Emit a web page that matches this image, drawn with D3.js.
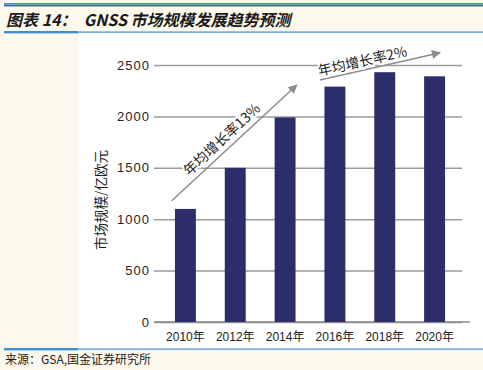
<!DOCTYPE html>
<html>
<head>
<meta charset="utf-8">
<script src="https://cdn.jsdelivr.net/npm/d3@7"></script>
<style>
  body { margin: 0; background: #fdf8ec; }
  svg { display: block; font-family: "Liberation Sans", Arial, "Noto Sans CJK SC", sans-serif; }
</style>
</head>
<body>
<div id="chart"></div>
<script>
(function()
{
    var width = 483;
    var height = 370;

    // data
    var years = ["2010年", "2012年", "2014年", "2016年", "2018年", "2020年"];
    var values = [1100, 1500, 1990, 2290, 2430, 2390];
    var yTicks = [0, 500, 1000, 1500, 2000, 2500];
    var growthLabels = ["年均增长率13%", "年均增长率2%"];

    var svg = d3.select("#chart")
        .append("svg")
        .attr("width", width)
        .attr("height", height);

    // page frame: cream paper, white plot panel, blue rules
    svg.append("rect").attr("width", width).attr("height", height).attr("fill", "#fdf8ec");
    svg.append("rect").attr("x", 78).attr("y", 33).attr("width", width - 78).attr("height", 316).attr("fill", "#ffffff");
    svg.append("rect").attr("x", 4).attr("y", 3).attr("width", width - 4).attr("height", 1.5).attr("fill", "#3d97d6");
    svg.append("rect").attr("x", 4).attr("y", 4.5).attr("width", width - 4).attr("height", 2).attr("fill", "#4d6e9f");
    [32, 349].forEach(function(yy) {
        svg.append("rect").attr("x", 4).attr("y", yy - 0.5).attr("width", width - 4).attr("height", 1.2).attr("fill", "#3d8fd0");
        svg.append("rect").attr("x", 4).attr("y", yy - 1).attr("width", 74).attr("height", 2.4).attr("fill", "#3d8fd0");
    });

    svg.append("text")
        .attr("x", 6).attr("y", 26)
        .attr("font-family", "'Noto Sans CJK SC', 'Liberation Sans', sans-serif")
        .attr("font-size", 16).attr("font-weight", "bold").attr("font-style", "italic")
        .attr("fill", "#1a1a1a")
        .style("white-space", "pre")
        .text("图表 14：  GNSS 市场规模发展趋势预测");

    svg.append("text")
        .attr("x", 5).attr("y", 364)
        .attr("font-family", "'Noto Sans CJK SC', 'Liberation Sans', sans-serif")
        .attr("font-size", 12).attr("fill", "#1a1a1a")
        .text("来源：GSA,国金证券研究所");

    var x = d3.scaleBand()
        .domain(years)
        .range([160, 460])
        .paddingInner(0.58)
        .paddingOuter(0.3);

    var y = d3.scaleLinear()
        .domain([0, 2500])
        .range([322, 65]);

    // year -> pixel, continuous along the band centres (for the trend arrows)
    var xYear = function(yr) {
        return x(years[0]) + x.bandwidth() / 2 + (yr - 2010) / 2 * x.step();
    };

    //gridlines and y tick labels
    var yAxis = d3.axisLeft(y).tickValues(yTicks).tickFormat(d3.format("d"))
        .tickSize(-(462 - 154)).tickPadding(4);
    var gy = svg.append("g").attr("transform", "translate(154,0)").call(yAxis);
    gy.select(".domain").remove();
    gy.selectAll(".tick line").attr("stroke", "#9a9a9a").attr("stroke-width", 1.5);
    gy.selectAll(".tick text")
        .attr("font-size", 13).attr("letter-spacing", 1).attr("fill", "#222");

    svg.append("line")
        .attr("x1", 154).attr("x2", 470)
        .attr("y1", y(0)).attr("y2", y(0))
        .attr("stroke", "#8a8a8a").attr("stroke-width", 1.5);

    svg.append("text")
        .attr("transform", "translate(106," + 200 + ") rotate(-90)")
        .attr("text-anchor", "middle")
        .attr("font-family", "'Noto Sans CJK SC', sans-serif")
        .attr("font-size", 13.5).attr("fill", "#222")
        .text("市场规模/亿欧元");

    svg.selectAll(".bar").data(values)
        .enter().append("rect")
        .attr("class", "bar")
        .attr("x", function(d, i) { return x(years[i]); })
        .attr("width", x.bandwidth())
        .attr("y", function(d) { return y(d); })
        .attr("height", function(d) { return y(0) - y(d); })
        .attr("fill", "#2c2e6c");

    var xAxis = d3.axisBottom(x).tickSize(0).tickPadding(10.5);
    var gx = svg.append("g").attr("transform", "translate(0," + y(0) + ")").call(xAxis);
    gx.select(".domain").remove();
    gx.selectAll(".tick text")
        .attr("font-family", "'Liberation Sans', 'Noto Sans CJK SC', sans-serif")
        .attr("font-size", 12).attr("fill", "#222");

    // trend arrows
    svg.append("defs").append("marker")
        .attr("id", "head")
        .attr("markerUnits", "userSpaceOnUse")
        .attr("viewBox", "0 0 10 10")
        .attr("refX", 9).attr("refY", 5)
        .attr("markerWidth", 12).attr("markerHeight", 9)
        .attr("orient", "auto")
        .append("path").attr("d", "M0,0L10,5L0,10Z").attr("fill", "#8c8c8c");

    var arrows = [
        {from: [2009.45, 1180], to: [2014.47, 2305], at: 0.46, lift: 6},
        {from: [2015.4, 2354], to: [2020.22, 2620], at: 0.37, lift: 4}
    ];

    arrows.forEach(function(a, i) {
        var x1 = xYear(a.from[0]), y1 = y(a.from[1]);
        var x2 = xYear(a.to[0]), y2 = y(a.to[1]);
        var ang = Math.atan2(y2 - y1, x2 - x1) * 180 / Math.PI;
        svg.append("line")
            .attr("x1", x1).attr("y1", y1).attr("x2", x2).attr("y2", y2)
            .attr("stroke", "#8c8c8c").attr("stroke-width", 1.5)
            .attr("marker-end", "url(#head)");
        var tx = x1 + (x2 - x1) * a.at, ty = y1 + (y2 - y1) * a.at;
        svg.append("text")
            .attr("transform", "translate(" + tx + "," + ty + ") rotate(" + ang + ")")
            .attr("dy", -a.lift)
            .attr("text-anchor", "middle")
            .attr("font-family", "'Noto Sans CJK SC', 'Liberation Sans', sans-serif")
            .attr("font-size", 14).attr("fill", "#222")
            .attr("stroke", "#fff").attr("stroke-width", 4).attr("paint-order", "stroke")
            .text(growthLabels[i]);
    });

})();
</script>
</body>
</html>
